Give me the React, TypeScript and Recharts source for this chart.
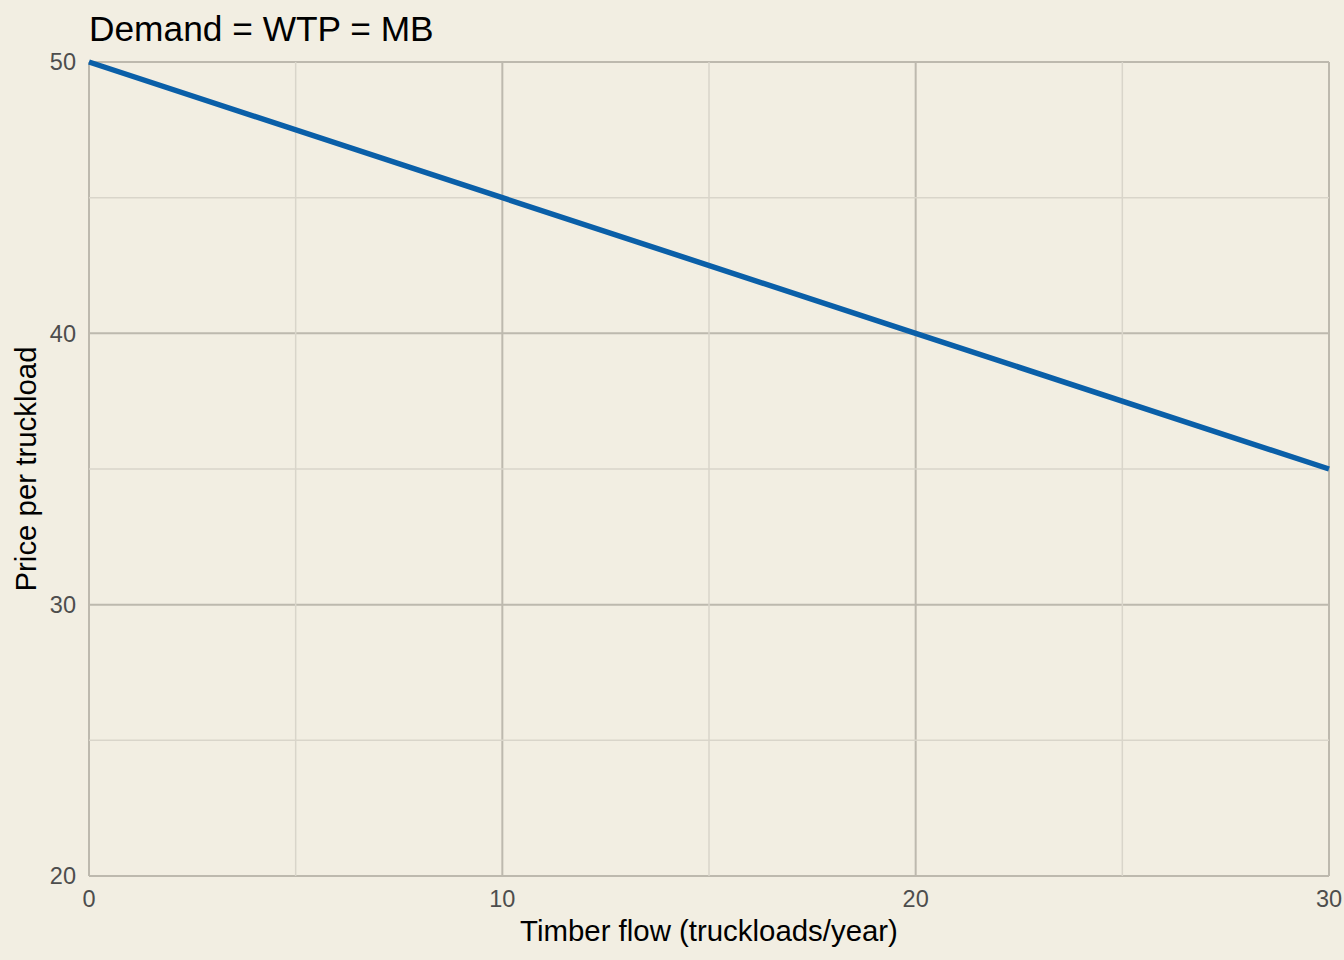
import { LineChart, Line, XAxis, YAxis, CartesianGrid, ReferenceLine, Label } from 'recharts';

const flow = [0, 10, 20, 30];
const price = [50, 45, 40, 35];
const xTicks = [0, 10, 20, 30];
const yTicks = [20, 30, 40, 50];
const xMinor = [5, 15, 25];
const yMinor = [25, 35, 45];

const data = flow.map((f, i) => ({ flow: f, price: price[i] }));

const BG = '#f2eee2';
const MAJOR = '#bdb9ae';
const MINOR = '#d9d5ca';
const FONT = 'Helvetica, Arial, "Liberation Sans", sans-serif';

export default function App() {
  return (
    <div
      style={{
        position: 'fixed',
        top: 0,
        left: 0,
        width: 1344,
        height: 960,
        background: BG,
        fontFamily: FONT,
      }}
    >
      <div
        style={{
          position: 'absolute',
          left: 89,
          top: 8,
          fontSize: 35.3,
          color: '#000',
          lineHeight: 1.2,
        }}
      >
        Demand = WTP = MB
      </div>
      <LineChart
        width={1344}
        height={960}
        data={data}
        margin={{ top: 62, right: 15, bottom: 0, left: 0 }}
      >
        <CartesianGrid stroke={MAJOR} strokeWidth={2} />
        {xMinor.map((v) => (
          <ReferenceLine key={'x' + v} x={v} stroke={MINOR} strokeWidth={1.5} />
        ))}
        {yMinor.map((v) => (
          <ReferenceLine key={'y' + v} y={v} stroke={MINOR} strokeWidth={1.5} />
        ))}
        <XAxis
          type="number"
          dataKey="flow"
          domain={[0, 30]}
          ticks={xTicks}
          axisLine={false}
          tickLine={false}
          tick={{ fontSize: 23.5, fill: '#4d4d4d', fontFamily: FONT }}
          tickMargin={8}
          height={84}
        >
          <Label
            value="Timber flow (truckloads/year)"
            position="insideBottom"
            offset={19}
            style={{ fontSize: 29.4, fill: '#000', fontFamily: FONT }}
          />
        </XAxis>
        <YAxis
          type="number"
          domain={[20, 50]}
          ticks={yTicks}
          axisLine={false}
          tickLine={false}
          tick={{ fontSize: 23.5, fill: '#4d4d4d', fontFamily: FONT }}
          tickMargin={7}
          width={89}
        >
          <Label
            value="Price per truckload"
            angle={-90}
            position="insideLeft"
            offset={26}
            style={{ fontSize: 29.4, fill: '#000', fontFamily: FONT, textAnchor: 'middle' }}
          />
        </YAxis>
        <Line
          type="linear"
          dataKey="price"
          stroke="#0a5fa8"
          strokeWidth={5.5}
          dot={false}
          activeDot={false}
          isAnimationActive={false}
        />
      </LineChart>
    </div>
  );
}
